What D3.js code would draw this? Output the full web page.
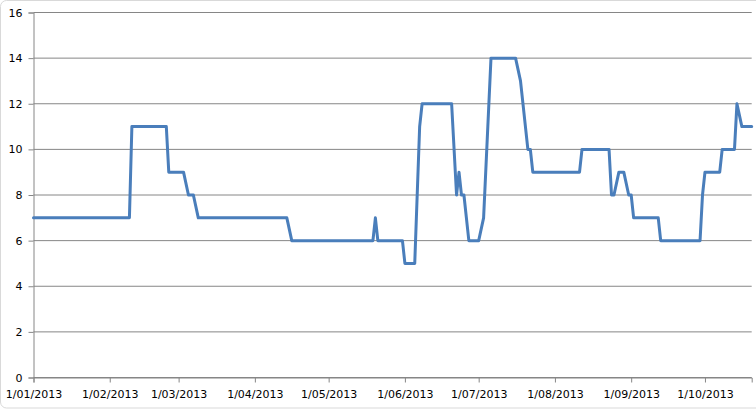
<!DOCTYPE html>
<html>
<head>
<meta charset="utf-8">
<script src="https://cdn.jsdelivr.net/npm/d3@7"></script>
<style>
  body { margin: 0; background: #fff; }
  svg { display: block; }
  .tick text { font-family: "DejaVu Sans", Verdana, sans-serif; font-size: 11px; fill: #000; }
</style>
</head>
<body>
<svg id="chart" width="756" height="409"></svg>
<script>
// vertices of the line
const dates = [
  '2013-01-01', '2013-02-09', '2013-02-10', '2013-02-24', '2013-02-25', '2013-03-03',
  '2013-03-05', '2013-03-07', '2013-03-09', '2013-04-14', '2013-04-16', '2013-05-19',
  '2013-05-20', '2013-05-21', '2013-05-31', '2013-06-01', '2013-06-05', '2013-06-07',
  '2013-06-08', '2013-06-20', '2013-06-22', '2013-06-23', '2013-06-24', '2013-06-25',
  '2013-06-27', '2013-07-01', '2013-07-03', '2013-07-06', '2013-07-16', '2013-07-18',
  '2013-07-21', '2013-07-22', '2013-07-23', '2013-08-11', '2013-08-12', '2013-08-23',
  '2013-08-24', '2013-08-25', '2013-08-27', '2013-08-29', '2013-08-31', '2013-09-01',
  '2013-09-02', '2013-09-12', '2013-09-13', '2013-09-29', '2013-09-30', '2013-10-01',
  '2013-10-07', '2013-10-08', '2013-10-13', '2013-10-14', '2013-10-16', '2013-10-20',
];
const values = [
  7, 7, 11, 11, 9, 9,
  8, 8, 7, 7, 6, 6,
  7, 6, 6, 5, 5, 11,
  12, 12, 8, 9, 8, 8,
  6, 6, 7, 14, 14, 13,
  10, 10, 9, 9, 10, 10,
  8, 8, 9, 9, 8, 8,
  7, 7, 6, 6, 8, 9,
  9, 10, 10, 12, 11, 11,
];
const xTicks = ['2013-01-01', '2013-02-01', '2013-03-01', '2013-04-01', '2013-05-01',
  '2013-06-01', '2013-07-01', '2013-08-01', '2013-09-01', '2013-10-01'];
const yTicks = [0, 2, 4, 6, 8, 10, 12, 14, 16];

const parse = d3.timeParse('%Y-%m-%d');
const data = dates.map((d, i) => ({ date: parse(d), value: values[i] }));

const svg = d3.select('#chart');
const plot = { left: 33.5, right: 751.7, top: 12.5, bottom: 377.5 };

// faint chart border
svg.append('rect')
  .attr('x', 0.5).attr('y', 0.5).attr('width', 800).attr('height', 407.5)
  .attr('rx', 6).attr('fill', 'none').attr('stroke', '#d9d9d9');

const x = d3.scaleTime()
  .domain([parse('2013-01-01'), parse('2013-10-20')])
  .range([plot.left, plot.right]);
const y = d3.scaleLinear().domain([0, 16]).range([plot.bottom, plot.top]);

// gridlines
svg.append('g')
  .selectAll('line')
  .data(yTicks)
  .enter().append('line')
  .attr('x1', plot.left).attr('x2', plot.right)
  .attr('y1', d => y(d)).attr('y2', d => y(d))
  .attr('stroke', '#868686').attr('stroke-width', 1);

// y axis
const yAxis = svg.append('g')
  .attr('transform', `translate(${plot.left},0)`)
  .call(d3.axisLeft(y).tickValues(yTicks).tickSize(5).tickPadding(6));
yAxis.select('.domain').attr('stroke', '#868686');
yAxis.selectAll('.tick line').attr('stroke', '#868686');

// x axis
const xAxis = svg.append('g')
  .attr('transform', `translate(0,${plot.bottom})`)
  .call(d3.axisBottom(x)
    .tickValues(xTicks.map(parse))
    .tickFormat(d3.timeFormat('%-d/%m/%Y'))
    .tickSize(5).tickPadding(8));
xAxis.select('.domain').attr('stroke', '#868686');
xAxis.selectAll('.tick line').attr('stroke', '#868686');

// series line
const line = d3.line()
  .x(d => x(d.date))
  .y(d => y(d.value));

svg.append('path')
  .datum(data)
  .attr('d', line)
  .attr('fill', 'none')
  .attr('stroke', '#4a7ebb')
  .attr('stroke-width', 3)
  .attr('stroke-linejoin', 'round')
  .attr('stroke-linecap', 'round');
</script>
</body>
</html>
